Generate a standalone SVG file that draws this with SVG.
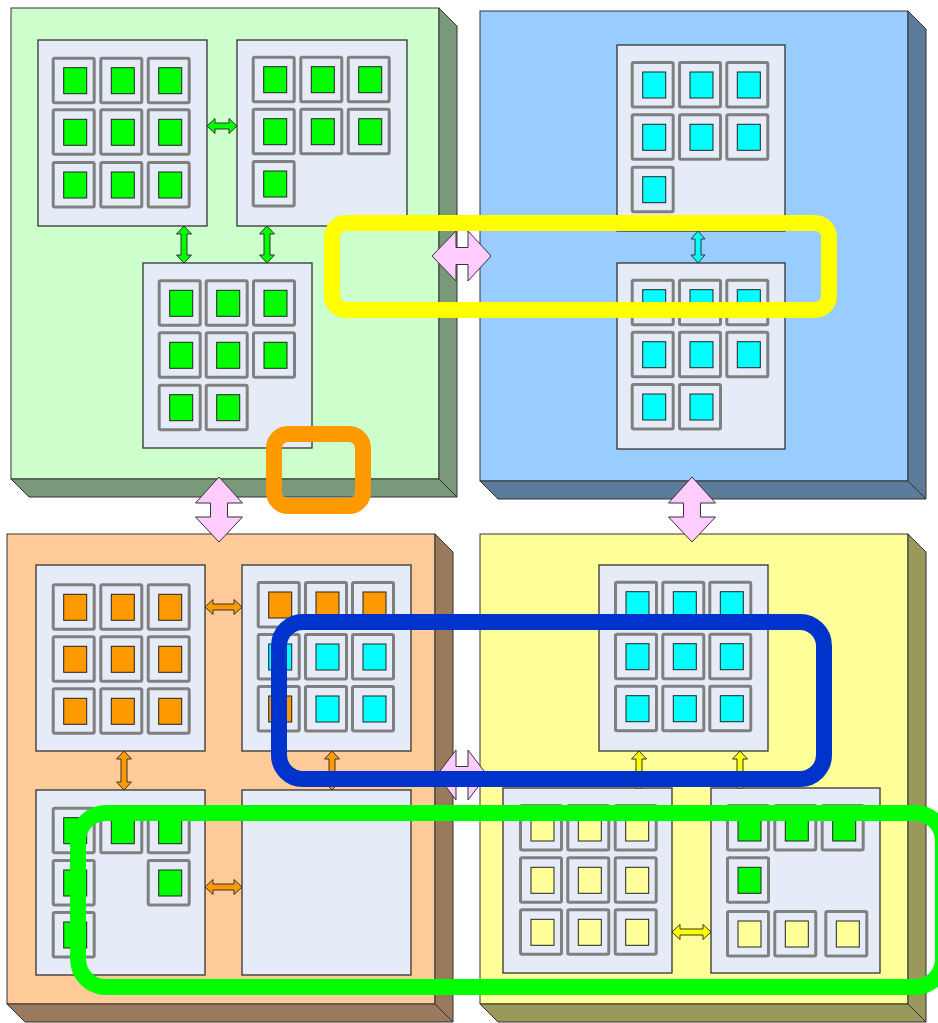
<svg xmlns="http://www.w3.org/2000/svg" width="938" height="1023" viewBox="0 0 938 1023">
<style>
.front{stroke:#333;stroke-width:1}
.side{stroke:#333;stroke-width:1;stroke-linejoin:round}
.card{fill:#E6ECF7;stroke:#333;stroke-width:1.3}
.conn{stroke:#333;stroke-width:1;stroke-linejoin:miter}
.big{fill:#FFCCFF;stroke:#333;stroke-width:1}
.hl{fill:none;stroke-width:16}
</style>
<defs>
<g id="cell">
<rect x="1.5" y="1.5" width="41" height="44.5" rx="1.5" fill="#E6ECF7" stroke="#808080" stroke-width="3"/>
<rect x="12" y="11" width="23" height="26" stroke="#222" stroke-width="1"/>
</g>
</defs>

<!-- Green block -->
<g id="block-green">
<rect class="front" x="11" y="8" width="428" height="471" fill="#CCFFCC"/>
<polygon class="side" points="439,8 457,26 457,497 439,479" fill="#7A997A"/>
<polygon class="side" points="11,479 439,479 457,497 29,497" fill="#7A997A"/>
</g>
<!-- Blue block -->
<g id="block-blue">
<rect class="front" x="480" y="11" width="428" height="470" fill="#99CCFF"/>
<polygon class="side" points="908,11 926,29 926,499 908,481" fill="#5C7A99"/>
<polygon class="side" points="480,481 908,481 926,499 498,499" fill="#5C7A99"/>
</g>
<!-- Orange block -->
<g id="block-orange">
<rect class="front" x="7" y="534" width="428" height="470" fill="#FFCC99"/>
<polygon class="side" points="435,534 453,552 453,1022 435,1004" fill="#997A5C"/>
<polygon class="side" points="7,1004 435,1004 453,1022 25,1022" fill="#997A5C"/>
</g>
<!-- Yellow block -->
<g id="block-yellow">
<rect class="front" x="480" y="534" width="428" height="470" fill="#FFFF99"/>
<polygon class="side" points="908,534 926,552 926,1022 908,1004" fill="#99995C"/>
<polygon class="side" points="480,1004 908,1004 926,1022 498,1022" fill="#99995C"/>
</g>

<!-- Green cards -->
<g id="green-card-1" fill="#00FF00">
<rect class="card" x="38" y="40" width="169" height="186"/>
<use href="#cell" x="51.7" y="56.7"/><use href="#cell" x="99.3" y="56.7"/><use href="#cell" x="146.7" y="56.7"/>
<use href="#cell" x="51.7" y="108.3"/><use href="#cell" x="99.3" y="108.3"/><use href="#cell" x="146.7" y="108.3"/>
<use href="#cell" x="51.7" y="161"/><use href="#cell" x="99.3" y="161"/><use href="#cell" x="146.7" y="161"/>
</g>
<g id="green-card-2" fill="#00FF00">
<rect class="card" x="237" y="40" width="170" height="186"/>
<use href="#cell" x="251.7" y="55.7"/><use href="#cell" x="299.3" y="55.7"/><use href="#cell" x="346.7" y="55.7"/>
<use href="#cell" x="251.7" y="107.7"/><use href="#cell" x="299.3" y="107.7"/><use href="#cell" x="346.7" y="107.7"/>
<use href="#cell" x="251.7" y="160"/>
</g>
<g id="green-card-3" fill="#00FF00">
<rect class="card" x="143" y="263" width="169" height="185"/>
<use href="#cell" x="157.7" y="279.3"/><use href="#cell" x="204.7" y="279.3"/><use href="#cell" x="252" y="279.3"/>
<use href="#cell" x="157.7" y="331.3"/><use href="#cell" x="204.7" y="331.3"/><use href="#cell" x="252" y="331.3"/>
<use href="#cell" x="157.7" y="383.7"/><use href="#cell" x="204.7" y="383.7"/>
</g>

<!-- Blue cards -->
<g id="blue-card-1" fill="#00FFFF">
<rect class="card" x="617" y="45" width="168" height="186"/>
<use href="#cell" x="630.7" y="61"/><use href="#cell" x="678" y="61"/><use href="#cell" x="725.3" y="61"/>
<use href="#cell" x="630.7" y="113.3"/><use href="#cell" x="678" y="113.3"/><use href="#cell" x="725.3" y="113.3"/>
<use href="#cell" x="630.7" y="165.7"/>
</g>
<g id="blue-card-2" fill="#00FFFF">
<rect class="card" x="617" y="263" width="168" height="186"/>
<use href="#cell" x="630.7" y="278.7"/><use href="#cell" x="678" y="278.7"/><use href="#cell" x="725.3" y="278.7"/>
<use href="#cell" x="630.7" y="330.7"/><use href="#cell" x="678" y="330.7"/><use href="#cell" x="725.3" y="330.7"/>
<use href="#cell" x="630.7" y="383"/><use href="#cell" x="678" y="383"/>
</g>

<!-- Orange cards -->
<g id="orange-card-1" fill="#FF9900">
<rect class="card" x="36" y="565" width="169" height="186"/>
<use href="#cell" x="51.7" y="583.3"/><use href="#cell" x="99.3" y="583.3"/><use href="#cell" x="146.7" y="583.3"/>
<use href="#cell" x="51.7" y="635.3"/><use href="#cell" x="99.3" y="635.3"/><use href="#cell" x="146.7" y="635.3"/>
<use href="#cell" x="51.7" y="687.3"/><use href="#cell" x="99.3" y="687.3"/><use href="#cell" x="146.7" y="687.3"/>
</g>
<g id="orange-card-2">
<rect class="card" x="242" y="565" width="169" height="186"/>
<use href="#cell" x="256.7" y="581" fill="#FF9900"/><use href="#cell" x="304" y="581" fill="#FF9900"/><use href="#cell" x="351" y="581" fill="#FF9900"/>
<use href="#cell" x="256.7" y="633" fill="#00FFFF"/><use href="#cell" x="304" y="633" fill="#00FFFF"/><use href="#cell" x="351" y="633" fill="#00FFFF"/>
<use href="#cell" x="256.7" y="685" fill="#FF9900"/><use href="#cell" x="304" y="685" fill="#00FFFF"/><use href="#cell" x="351" y="685" fill="#00FFFF"/>
</g>
<g id="orange-card-3" fill="#00FF00">
<rect class="card" x="36" y="790" width="169" height="185"/>
<use href="#cell" x="51.7" y="806.7"/><use href="#cell" x="99.3" y="806.7"/><use href="#cell" x="146.7" y="806.7"/>
<use href="#cell" x="51.7" y="859"/><use href="#cell" x="146.7" y="859"/>
<use href="#cell" x="51.7" y="911"/>
</g>
<g id="orange-card-4">
<rect class="card" x="242" y="790" width="169" height="185"/>
</g>

<!-- Yellow cards -->
<g id="yellow-card-top" fill="#00FFFF">
<rect class="card" x="599" y="565" width="169" height="186"/>
<use href="#cell" x="614" y="580.7"/><use href="#cell" x="661.3" y="580.7"/><use href="#cell" x="708.3" y="580.7"/>
<use href="#cell" x="614" y="632.7"/><use href="#cell" x="661.3" y="632.7"/><use href="#cell" x="708.3" y="632.7"/>
<use href="#cell" x="614" y="684.7"/><use href="#cell" x="661.3" y="684.7"/><use href="#cell" x="708.3" y="684.7"/>
</g>
<g id="yellow-card-left" fill="#FFFF99">
<rect class="card" x="503" y="788" width="169" height="185"/>
<use href="#cell" x="519" y="804"/><use href="#cell" x="566.3" y="804"/><use href="#cell" x="613.7" y="804"/>
<use href="#cell" x="519" y="856.3"/><use href="#cell" x="566.3" y="856.3"/><use href="#cell" x="613.7" y="856.3"/>
<use href="#cell" x="519" y="908.3"/><use href="#cell" x="566.3" y="908.3"/><use href="#cell" x="613.7" y="908.3"/>
</g>
<g id="yellow-card-right">
<rect class="card" x="711" y="788" width="169" height="185"/>
<use href="#cell" x="726" y="804" fill="#00FF00"/><use href="#cell" x="773.3" y="804" fill="#00FF00"/><use href="#cell" x="820.7" y="804" fill="#00FF00"/>
<use href="#cell" x="726" y="856.3" fill="#00FF00"/>
<use href="#cell" x="726" y="910" fill="#FFFF99"/><use href="#cell" x="773.3" y="910" fill="#FFFF99"/><use href="#cell" x="824.3" y="910" fill="#FFFF99"/>
</g>

<!-- Connectors -->
<g id="connectors">
<!-- green -->
<path class="conn" fill="#00FF00" d="M207,126 L215,118.5 L215,123 L229,123 L229,118.5 L237,126 L229,133.5 L229,129 L215,129 L215,133.5 Z"/>
<path class="conn" fill="#00FF00" d="M184,226 L191.5,234 L187,234 L187,255 L191.5,255 L184,263 L176.5,255 L181,255 L181,234 L176.5,234 Z"/>
<path class="conn" fill="#00FF00" d="M267,226 L274.5,234 L270,234 L270,255 L274.5,255 L267,263 L259.5,255 L264,255 L264,234 L259.5,234 Z"/>
<!-- blue -->
<path class="conn" fill="#00FFFF" d="M698,231 L705,239 L701,239 L701,255 L705,255 L698,263 L691,255 L695,255 L695,239 L691,239 Z"/>
<!-- orange -->
<path class="conn" fill="#FF9900" d="M205,607 L213,599.5 L213,604 L234,604 L234,599.5 L242,607 L234,614.5 L234,610 L213,610 L213,614.5 Z"/>
<path class="conn" fill="#FF9900" d="M124,751 L131.5,759 L127,759 L127,782 L131.5,782 L124,790 L116.5,782 L121,782 L121,759 L116.5,759 Z"/>
<path class="conn" fill="#FF9900" d="M332,751 L339.5,759 L335,759 L335,782 L339.5,782 L332,790 L324.5,782 L329,782 L329,759 L324.5,759 Z"/>
<path class="conn" fill="#FF9900" d="M205,887 L213,879.5 L213,884 L234,884 L234,879.5 L242,887 L234,894.5 L234,890 L213,890 L213,894.5 Z"/>
<!-- yellow -->
<path class="conn" fill="#FFFF00" d="M672,932 L680,924.5 L680,929 L703,929 L703,924.5 L711,932 L703,939.5 L703,935 L680,935 L680,939.5 Z"/>
<path class="conn" fill="#FFFF00" d="M639,751 L646.5,759 L642,759 L642,788 L636,788 L636,759 L631.5,759 Z"/>
<path class="conn" fill="#FFFF00" d="M740,751 L747.5,759 L743,759 L743,788 L737,788 L737,759 L732.5,759 Z"/>
<!-- big pink connectors between blocks -->
<path class="big" d="M432,256 L456,231 L456,247.5 L468,247.5 L468,231 L491,256 L468,281 L468,264.5 L456,264.5 L456,281 Z"/>
<path class="big" d="M219,477 L242.5,503 L227.5,503 L227.5,517 L242.5,517 L219,542 L195.5,517 L210.5,517 L210.5,503 L195.5,503 Z"/>
<path class="big" d="M692,477 L715.5,503 L700.5,503 L700.5,517 L715.5,517 L692,542 L668.5,517 L683.5,517 L683.5,503 L668.5,503 Z"/>
<path class="big" d="M437,775 L456,750 L456,766.5 L468,766.5 L468,750 L487,775 L468,800 L468,783.5 L456,783.5 L456,800 Z"/>
</g>

<!-- Highlight outlines -->
<g id="highlight-yellow"><rect class="hl" x="332" y="223" width="497" height="87" rx="14" stroke="#FFFF00"/></g>
<g id="highlight-orange"><rect class="hl" x="274" y="434" width="89" height="72" rx="14" stroke="#FF9900"/></g>
<g id="highlight-blue"><rect class="hl" x="279" y="622" width="545" height="157" rx="24" stroke="#0033CC"/></g>
<g id="highlight-green"><rect class="hl" x="78" y="813" width="865" height="174" rx="28" stroke="#00FF00"/></g>
</svg>
